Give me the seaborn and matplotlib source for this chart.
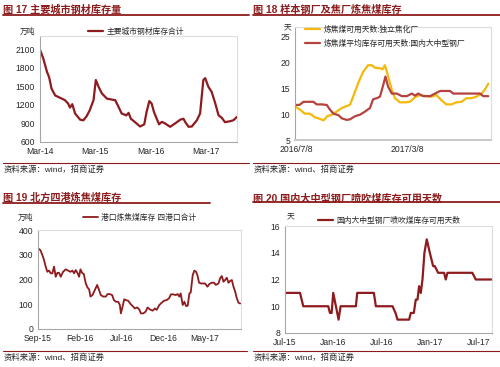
import matplotlib
matplotlib.use("Agg")
import matplotlib.pyplot as plt
from matplotlib.lines import Line2D
import seaborn as sns

W, H = 500, 367

# ---------------------------------------------------------
# 图17 主要城市钢材库存量 (万吨), x = 距 2014-03 的月数
# ---------------------------------------------------------
steel_month = [0, 0.7, 1.5, 2.0, 2.5, 3.3, 4.3, 5.4, 6.1, 6.5,
               7.0, 7.6, 8.7, 9.4, 10.1, 10.8, 11.6, 12.1, 12.7, 13.4,
               14.5, 15.5, 16.3, 17.0, 17.7, 18.7, 19.2, 19.7, 20.6, 21.7,
               22.6, 23.1, 23.7, 24.2, 24.7, 25.3, 25.8, 26.4, 27.1, 28.2,
               29.3, 30.4, 31.1, 31.5, 32.2, 32.9, 34.0, 34.7, 35.4, 35.8,
               36.5, 37.2, 38.0, 38.7, 39.4, 40.1, 41.2, 41.9, 42.7]
steel_stock = [2090, 1950, 1735, 1640, 1460, 1350, 1315, 1275, 1220, 1155,
               1210, 1060, 960, 950, 1015, 1115, 1275, 1600, 1490, 1385,
               1300, 1285, 1275, 1170, 1060, 1030, 1070, 975, 920, 850,
               885, 1085, 1260, 1220, 1085, 975, 885, 925, 900, 845,
               900, 960, 975, 920, 845, 850, 950, 1060, 1600, 1630,
               1490, 1410, 1220, 1030, 990, 920, 935, 950, 1005]
steel_ticks = [0, 12, 24, 36]
steel_labels = ['Mar-14', 'Mar-15', 'Mar-16', 'Mar-17']

# ---------------------------------------------------------
# 图18 炼焦煤可用天数, x = 距 2016-07-08 的天数
# ---------------------------------------------------------
coke_day = [-2, 7, 18, 29, 40, 51, 59, 67, 77, 88,
            99, 110, 117, 124, 135, 146, 157, 165, 172, 183,
            189, 194, 201, 209, 216, 227, 238, 249, 260, 271,
            286, 296, 307, 318, 329, 340, 351, 362, 373, 384,
            395, 406, 413, 421]
coke_days = [11.4, 10.9, 10.1, 10.1, 9.4, 9.1, 8.8, 9.6, 9.9, 10.5,
             11.2, 11.6, 11.8, 13.4, 16.0, 18.2, 19.5, 19.5, 19.0, 18.9,
             18.7, 19.5, 17.3, 14.7, 13.1, 12.3, 12.3, 12.4, 13.3, 13.7,
             13.5, 13.4, 13.7, 12.7, 11.9, 11.9, 12.3, 12.4, 13.1, 13.1,
             13.4, 14.0, 14.7, 15.9]
mill_day = [-2, 6, 15, 26, 37, 44, 55, 66, 73, 81,
            92, 99, 110, 117, 128, 139, 150, 161, 168, 176,
            183, 190, 195, 201, 209, 220, 231, 242, 253, 260,
            267, 278, 293, 304, 315, 329, 337, 344, 359, 381,
            403, 410, 421]
mill_days = [11.8, 11.8, 12.4, 12.4, 12.4, 11.9, 11.9, 11.8, 10.9, 10.1,
             9.8, 9.2, 8.9, 9.0, 9.6, 9.9, 10.5, 11.2, 12.9, 13.1,
             13.4, 15.6, 17.3, 15.3, 14.0, 14.0, 13.5, 13.5, 14.0, 13.6,
             14.0, 13.5, 13.5, 14.0, 14.5, 14.5, 14.5, 14.0, 14.0, 14.0,
             14.0, 13.5, 13.5]
coke_ticks = [0, 243]
coke_labels = ['2016/7/8', '2017/3/8']

# ---------------------------------------------------------
# 图19 北方四港炼焦煤库存 (万吨), x = 距 2015-09 的月数
# ---------------------------------------------------------
port_month = [0.00, 0.28, 0.52, 0.72, 0.92, 1.12, 1.32, 1.52, 1.72, 1.92,
              2.12, 2.32, 2.52, 2.72, 3.00, 3.32, 3.60, 3.88, 4.12, 4.32,
              4.52, 4.72, 4.92, 5.08, 5.28, 5.48, 5.72, 5.92, 6.12, 6.28,
              6.52, 6.80, 7.08, 7.28, 7.52, 7.80, 8.12, 8.32, 8.60, 8.88,
              9.08, 9.32, 9.60, 9.80, 9.92, 10.12, 10.32, 10.52, 10.80, 11.08,
              11.32, 11.60, 11.88, 12.12, 12.32, 12.60, 12.88, 13.12, 13.40, 13.72,
              14.00, 14.20, 14.52, 14.80, 15.08, 15.40, 15.68, 15.92, 16.20, 16.48,
              16.72, 16.92, 17.08, 17.32, 17.52, 17.72, 17.92, 18.12, 18.28, 18.52,
              18.72, 18.92, 19.08, 19.28, 19.52, 19.72, 20.00, 20.28, 20.52, 20.80,
              21.08, 21.28, 21.60, 21.80, 22.00, 22.20, 22.40, 22.60, 22.80, 23.00,
              23.20, 23.40, 23.60, 23.80, 24.00, 24.20]
port_stock = [326, 319, 299, 279, 252, 231, 236, 225, 225, 252,
              211, 227, 227, 211, 231, 241, 236, 231, 236, 225,
              238, 227, 211, 241, 227, 222, 184, 168, 160, 131,
              137, 157, 178, 160, 137, 131, 131, 141, 141, 137,
              117, 110, 110, 97, 63, 90, 120, 117, 114, 101,
              93, 83, 87, 79, 63, 63, 70, 87, 79, 74,
              83, 77, 97, 106, 114, 117, 124, 140, 140, 137,
              141, 131, 144, 97, 110, 93, 94, 144, 147, 218,
              236, 231, 218, 187, 184, 184, 184, 171, 182, 187,
              187, 178, 184, 205, 214, 191, 198, 207, 187, 194,
              198, 171, 151, 124, 106, 103]
port_ticks = [0, 5, 10, 15, 20]
port_labels = ['Sep-15', 'Feb-16', 'Jul-16', 'Dec-16', 'May-17']

# ---------------------------------------------------------
# 图20 喷吹煤库存可用天数, x = 距 2015-07 的月数
# ---------------------------------------------------------
pci_month = [0, 1.86, 2.27, 5.37, 5.58, 5.79, 5.99, 6.32, 6.65, 6.90,
             8.80, 8.97, 11.03, 11.28, 13.35, 13.72, 13.97, 15.41, 15.62, 15.99,
             16.24, 16.45, 16.65, 16.86, 17.07, 17.31, 17.60, 17.98, 18.39, 18.60,
             19.01, 19.75, 19.96, 20.17, 23.26, 23.68, 25.62]
pci_days = [11, 11, 10, 10, 9.5, 9.5, 11, 10, 9, 10,
            10, 11, 11, 10, 10, 9.5, 9, 9, 9.5, 9.5,
            10.5, 10.5, 11.5, 11, 12, 14, 15, 14, 13, 13,
            12.5, 12.5, 12, 12.5, 12.5, 12, 12]
pci_ticks = [0, 6, 12, 18, 24]
pci_labels = ['Jul-15', 'Jan-16', 'Jul-16', 'Jan-17', 'Jul-17']

# ---------------------------------------------------------
DARK_RED = '#8E1B1E'
BRICK = '#B5423F'
GOLD = '#F5B80B'
TITLE_RED = '#8E1B1B'

sns.set_theme(style="white")
plt.rcParams['font.family'] = ['Liberation Sans', 'Noto Sans CJK SC']
plt.rcParams['axes.unicode_minus'] = False

fig = plt.figure(figsize=(5, 3.67), dpi=100)


def px_axes(left, top, right, bottom):
    return fig.add_axes([left / W, 1 - bottom / H, (right - left) / W, (bottom - top) / H])


def fig_text(x, y, s, **kw):
    fig.text(x / W, 1 - y / H, s, va='center', **kw)


def fig_hline(x0, x1, y, lw):
    fig.add_artist(Line2D([x0 / W, x1 / W], [1 - y / H, 1 - y / H],
                          transform=fig.transFigure, lw=lw, color=TITLE_RED))


def style_axes(ax, xlim, ylim, xticks, xlabels, yticks):
    ax.set_xlim(*xlim)
    ax.set_ylim(*ylim)
    ax.set_xticks(xticks)
    ax.set_xticklabels(xlabels)
    ax.set_yticks(yticks)
    ax.set_xlabel('')
    ax.set_ylabel('')
    for side in ['left', 'bottom']:
        ax.spines[side].set_color('#A6A6A6')
        ax.spines[side].set_linewidth(0.8)
    for side in ['top', 'right']:
        ax.spines[side].set_color('#DDDDDD')
        ax.spines[side].set_linewidth(0.8)
    ax.tick_params(axis='both', labelsize=6.2, labelcolor='#262626', color='#A6A6A6',
                   length=2, width=0.6, pad=1.5, direction='out')


def place_legend(ax, x, y, spacing=0.5):
    ax.legend(loc='center left', bbox_to_anchor=(x / W, 1 - y / H),
              bbox_transform=fig.transFigure, frameon=False, fontsize=5.6,
              borderpad=0, borderaxespad=0, handlelength=1.9,
              handletextpad=0.45, labelspacing=spacing)


# ---- 图17 ----
fig_text(3, 10, '图 17 主要城市钢材库存量', fontsize=7.3, fontweight='bold', color=TITLE_RED)
fig_hline(3, 249, 15, 1.3)
ax1 = px_axes(40, 36, 237, 142)
sns.lineplot(x=steel_month, y=steel_stock, ax=ax1, color=DARK_RED, linewidth=1.6,
             label='主要城市钢材库存合计')
style_axes(ax1, (0, 42.7), (600, 2310), steel_ticks, steel_labels,
           [600, 900, 1200, 1500, 1800, 2100])
place_legend(ax1, 88, 32)
fig_text(20, 32, '万吨', fontsize=5.6, color='#262626')
fig_hline(3, 249, 163, 0.8)
fig_text(4, 170, '资料来源：wind，招商证券', fontsize=6, color='#262626')

# ---- 图18 ----
fig_text(253, 10, '图 18 样本钢厂及焦厂炼焦煤库存', fontsize=7.3, fontweight='bold', color=TITLE_RED)
fig_hline(253, 500, 15, 1.3)
ax2 = px_axes(295, 27, 491, 140)
sns.lineplot(x=coke_day, y=coke_days, ax=ax2, color=GOLD, linewidth=1.6,
             label='炼焦煤可用天数:独立焦化厂')
sns.lineplot(x=mill_day, y=mill_days, ax=ax2, color=BRICK, linewidth=1.6,
             label='炼焦煤平均库存可用天数:国内大中型钢厂')
style_axes(ax2, (-3.7, 427), (5, 26.9), coke_ticks, coke_labels, [5, 10, 15, 20, 25])
ax2.spines['bottom'].set_linewidth(1.4)
ax2.spines['bottom'].set_color('#C8C8C8')
place_legend(ax2, 305, 37, spacing=0.75)
fig_text(284, 28, '天', fontsize=5.6, color='#262626')
fig_hline(253, 500, 163, 0.8)
fig_text(254, 170, '资料来源：wind、招商证券', fontsize=6, color='#262626')

# ---- 图19 ----
fig_text(3, 198, '图 19 北方四港炼焦煤库存', fontsize=7.3, fontweight='bold', color=TITLE_RED)
fig_hline(3, 210, 203, 1.3)
ax3 = px_axes(38, 230, 241, 329)
sns.lineplot(x=port_month, y=port_stock, ax=ax3, color=DARK_RED, linewidth=1.3,
             label='港口炼焦煤库存 四港口合计')
style_axes(ax3, (0, 24.3), (0, 400), port_ticks, port_labels, [0, 100, 200, 300, 400])
place_legend(ax3, 83, 218)
fig_text(18, 218, '万吨', fontsize=5.6, color='#262626')
fig_hline(3, 247, 351, 0.8)
fig_text(4, 358, '资料来源：wind、招商证券', fontsize=6, color='#262626')

# ---- 图20 ----
fig_text(253, 198, '图 20 国内大中型钢厂喷吹煤库存可用天数', fontsize=7.3, fontweight='bold', color=TITLE_RED)
fig_hline(253, 500, 202, 1.3)
ax4 = px_axes(285, 226, 492, 333)
sns.lineplot(x=pci_month, y=pci_days, ax=ax4, color=DARK_RED, linewidth=1.6,
             label='国内大中型钢厂喷吹煤库存可用天数')
style_axes(ax4, (0, 25.7), (8, 16), pci_ticks, pci_labels, [8, 10, 12, 14, 16])
place_legend(ax4, 318, 221)
fig_text(287, 217, '天', fontsize=5.6, color='#262626')
fig_hline(253, 500, 351, 0.8)
fig_text(254, 358, '资料来源：wind，招商证券', fontsize=6, color='#262626')

fig.savefig('out.png', dpi=100)
